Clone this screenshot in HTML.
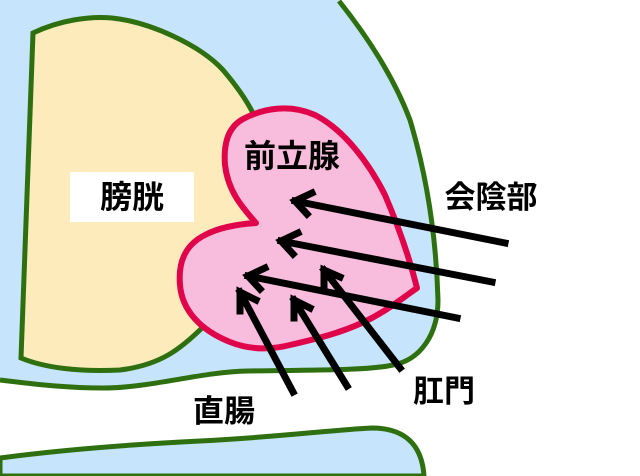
<!DOCTYPE html>
<html><head><meta charset="utf-8"><style>
html,body{margin:0;padding:0;background:#fff;width:640px;height:476px;overflow:hidden}
text{font-family:"Liberation Sans","Noto Sans CJK JP",sans-serif;font-weight:bold;fill:#000}
</style></head><body>
<svg width="640" height="476" viewBox="0 0 640 476" xmlns="http://www.w3.org/2000/svg">
<path d="M0,0 L339,0 C370,40 395,80 410,120 C425,170 436,230 438,300 C438,335 420,360 393,365 C370,370 330,370 248,371 C200,372 150,388 103,388 C70,388 40,385 0,380 Z" fill="#c6e4fb"/>
<path d="M339,1 C370,40 395,80 410,120 C425,170 436,230 438,300 C438,335 420,360 393,365 C370,370 330,370 248,371 C200,372 150,388 103,388 C70,388 40,385 0,380" fill="none" stroke="#2e7010" stroke-width="5"/>
<path d="M0,458 C60,450 120,445 200,441 C280,437 330,430 372,428 C405,428 422,445 424,476 L0,476 Z" fill="#c6e4fb" stroke="#2e7010" stroke-width="5"/>
<path d="M33,33 C60,20 90,16 112,18 C150,22 200,45 223,70 C240,90 250,105 256,120 L268,160 L272,230 L205,325 C180,350 160,365 120,370 C80,372 45,368 21,358 Z" fill="#fdebbb" stroke="#2e7010" stroke-width="5"/>
<path d="M245,118 C265,108 290,104 315,115 C345,130 370,165 385,195 C400,230 410,260 417,288 C400,300 385,312 364,322 C340,333 320,338 290,345 C270,350 250,350 230,342 C200,330 182,310 180,285 C178,262 185,245 205,235 C220,227 240,224 256,223 C240,205 228,190 225,165 C223,140 230,125 245,118 Z" fill="#f8bcdc" stroke="#e0054b" stroke-width="6" stroke-linejoin="round"/>
<rect x="70" y="172" width="124" height="50" fill="#fff"/>
<text x="132" y="208" font-size="32" text-anchor="middle">膀胱</text>
<text x="292" y="167" font-size="32" text-anchor="middle">前立腺</text>
<text x="491" y="208" font-size="31" text-anchor="middle">会陰部</text>
<text x="224" y="422" font-size="31" text-anchor="middle">直腸</text>
<text x="444" y="402" font-size="31" text-anchor="middle">肛門</text>
<g stroke="#000" stroke-width="7" fill="none" stroke-linecap="square">
<path d="M505,243 L295,201 M312,193 L295,201 L307,214"/>
<path d="M492,282 L281,241 M298,233 L281,241 L293,254"/>
<path d="M457,318 L248,276 M265,268 L248,276 L260,289"/>
<path d="M400,368 L324,270 M324,288 L324,270 L340,277"/>
<path d="M347,386 L294,300 M294,318 L294,300 L310,308"/>
<path d="M293,392 L240,292 M240,311 L240,292 L256,300"/>
</g>
</svg>
</body></html>
